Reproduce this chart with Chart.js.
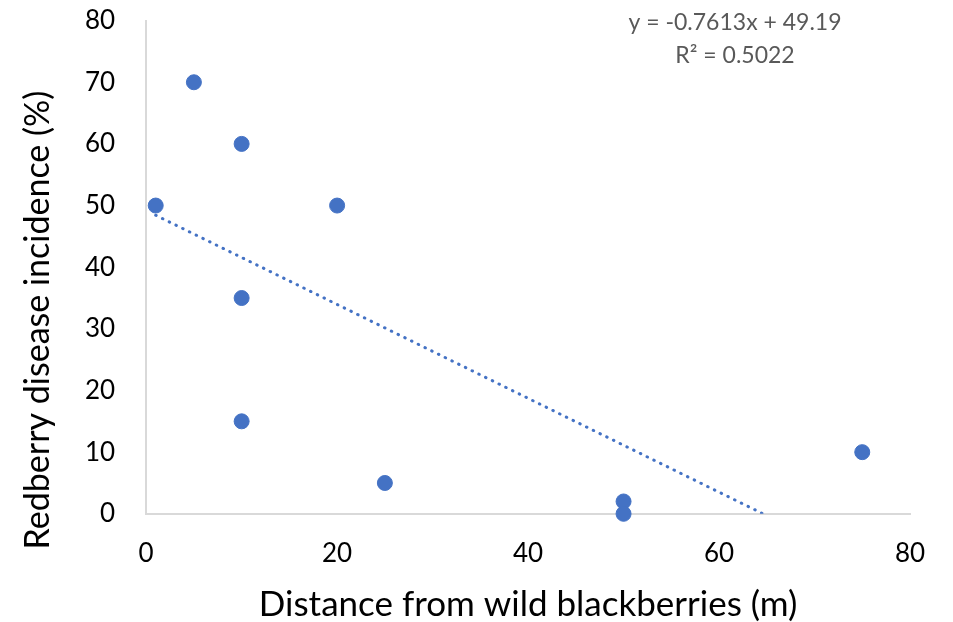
<!DOCTYPE html>
<html>
<head>
<meta charset="utf-8">
<script src="https://cdn.jsdelivr.net/npm/chart.js@4.4.1/dist/chart.umd.min.js"></script>
<style>
  html, body { margin: 0; padding: 0; background: #fff; }
  #wrap { width: 953px; height: 622px; }
</style>
</head>
<body>
<div id="wrap"><canvas id="grafico"></canvas></div>
<script>
// data
const distancia = [1, 5, 10, 20, 10, 10, 25, 50, 50, 75];
const incidencia = [50, 70, 60, 50, 35, 15, 5, 2, 0, 10];
const ticksX = [0, 20, 40, 60, 80];
const ticksY = [0, 10, 20, 30, 40, 50, 60, 70, 80];
const inclinacao = -0.7613;
const intercepto = 49.19;
const textoEquacao = ['y = -0.7613x + 49.19', 'R² = 0.5022'];
const tituloY = 'Redberry disease incidence (%)';

const azul = '#4472C4';
const fonte = 'Lato, "Open Sans", sans-serif';

// trendline from the first x until it hits y = 0
const xFim = -intercepto / inclinacao;
const tendencia = [
  { x: Math.min(...distancia), y: intercepto + inclinacao * Math.min(...distancia) },
  { x: xFim, y: 0 }
];

const pontos = distancia.map((d, i) => ({ x: d, y: incidencia[i] }));

// equation label + y title (Excel centres this one on the whole picture, not the plot)
const textos = {
  id: 'textos',
  afterDraw(chart) {
    const c = chart.ctx;
    c.save();
    c.fillStyle = '#595959';
    c.font = '23px ' + fonte;
    c.textAlign = 'center';
    c.textBaseline = 'middle';
    c.fillText(textoEquacao[0], 735, 23);
    c.fillText(textoEquacao[1], 735, 56);

    c.fillStyle = '#000';
    c.font = '34px ' + fonte;
    c.translate(38, 320);
    c.rotate(-Math.PI / 2);
    c.fillText(tituloY, 0, 0);
    c.restore();
  }
};

// invisible tick marks, only used to push the labels away from the axis
const gradeInvisivel = (len) => ({
  display: true,
  drawOnChartArea: false,
  drawTicks: true,
  tickLength: len,
  color: 'rgba(0,0,0,0)',
  tickColor: 'rgba(0,0,0,0)'
});

new Chart(document.getElementById('grafico'), {
  type: 'scatter',
  data: {
    datasets: [
      {
        label: 'Tendência',
        type: 'line',
        data: tendencia,
        borderColor: azul,
        borderWidth: 3,
        borderDash: [0.5, 7],
        borderCapStyle: 'round',
        pointRadius: 0,
        fill: false,
        order: 2
      },
      {
        label: 'Incidência',
        data: pontos,
        backgroundColor: azul,
        borderColor: azul,
        pointRadius: 7.5,
        pointHoverRadius: 7.5,
        clip: false,
        order: 1
      }
    ]
  },
  options: {
    responsive: true,
    maintainAspectRatio: false,
    animation: false,
    layout: { padding: { top: 0, right: 43, bottom: 0, left: 80 } },
    plugins: {
      legend: { display: false },
      tooltip: { enabled: false }
    },
    scales: {
      x: {
        type: 'linear',
        min: 0,
        max: 80,
        afterBuildTicks: (ax) => { ax.ticks = ticksX.map(v => ({ value: v })); },
        grid: gradeInvisivel(19),
        border: { color: '#D9D9D9', width: 2 },
        ticks: { color: '#000', font: { family: fonte, size: 26 }, padding: 5 },
        title: {
          display: true,
          text: 'Distance from wild blackberries (m)',
          color: '#000',
          font: { family: fonte, size: 35, lineHeight: 1 },
          padding: { top: 13, bottom: 0 }
        }
      },
      y: {
        type: 'linear',
        min: 0,
        max: 80,
        afterBuildTicks: (ax) => { ax.ticks = ticksY.map(v => ({ value: v })); },
        grid: gradeInvisivel(26),
        border: { color: '#D9D9D9', width: 2 },
        ticks: { color: '#000', font: { family: fonte, size: 26 }, padding: 5 },
        title: { display: false }
      }
    }
  },
  plugins: [textos]
});
</script>
</body>
</html>
